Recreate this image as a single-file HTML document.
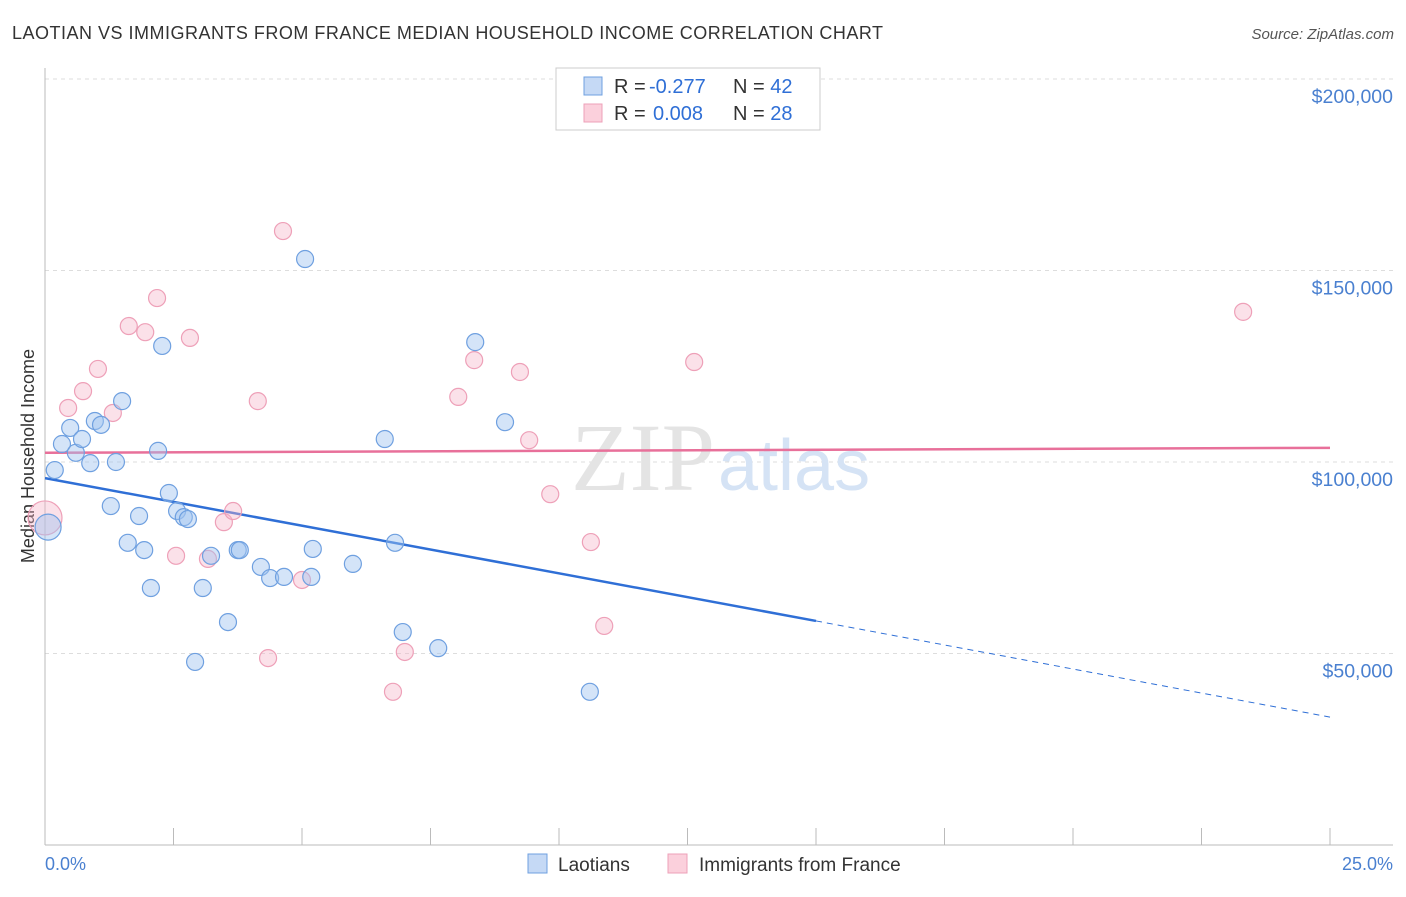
<!DOCTYPE html>
<html><head><meta charset="utf-8"><style>
body{margin:0;background:#fff;font-family:"Liberation Sans",sans-serif;}
</style></head><body>
<svg width="1406" height="892" viewBox="0 0 1406 892" xmlns="http://www.w3.org/2000/svg" font-family="Liberation Sans, sans-serif">
<text x="12" y="39" font-size="18" fill="#333" textLength="871">LAOTIAN VS IMMIGRANTS FROM FRANCE MEDIAN HOUSEHOLD INCOME CORRELATION CHART</text>
<text x="1394" y="39" font-size="15" fill="#555" font-style="italic" text-anchor="end">Source: ZipAtlas.com</text>
<g id="grid"></g>
<text x="715" y="490" font-size="96" fill="#e4e4e4" text-anchor="end" font-family="Liberation Serif, serif">ZIP</text>
<text x="718" y="490" font-size="72" fill="#d5e3f5">atlas</text>
<line x1="45" y1="68" x2="45" y2="845" stroke="#bbb"/>
<line x1="45" y1="845" x2="1393" y2="845" stroke="#bbb"/>
<text transform="translate(34,456) rotate(-90)" font-size="18" fill="#333" text-anchor="middle">Median Household Income</text>
<text x="45" y="870" font-size="18" fill="#4a80d0">0.0%</text>
<text x="1393" y="870" font-size="18" fill="#4a80d0" text-anchor="end">25.0%</text>
<g id="lines"></g>
<g id="pts"></g>
<g>
<rect x="556" y="68" width="264" height="62" fill="#fff" stroke="#ccc"/>
<rect x="584" y="77" width="18" height="18" fill="#c5d9f5" stroke="#6fa0e0"/>
<rect x="584" y="104" width="18" height="18" fill="#fbd0dc" stroke="#eea0b8"/>
<text x="614" y="93" font-size="20" fill="#333">R = <tspan fill="#2f6fd6" x="649">-0.277</tspan><tspan x="733">N = </tspan><tspan fill="#2f6fd6">42</tspan></text>
<text x="614" y="120" font-size="20" fill="#333">R = <tspan fill="#2f6fd6" x="653">0.008</tspan><tspan x="733">N = </tspan><tspan fill="#2f6fd6">28</tspan></text>
</g>
<g>
<rect x="528" y="854" width="19" height="19" fill="#c5d9f5" stroke="#6fa0e0"/>
<text x="558" y="871" font-size="19" fill="#333">Laotians</text>
<rect x="668" y="854" width="19" height="19" fill="#fbd0dc" stroke="#eea0b8"/>
<text x="699" y="871" font-size="19" fill="#333">Immigrants from France</text>
</g>
</svg>
<script>
const yTicks=[50000,100000,150000,200000];
const yTickLabels=["$50,000","$100,000","$150,000","$200,000"];
const blueX=[0.06,0.19,0.33,0.49,0.60,0.72,0.88,0.97,1.09,1.28,1.38,1.50,1.61,1.83,1.93,2.06,2.20,2.28,2.41,2.57,2.70,2.78,2.92,3.07,3.23,3.56,3.75,3.79,4.20,4.38,4.65,5.06,5.18,5.21,5.99,6.61,6.81,6.96,7.65,8.37,8.95,10.60];
const blueY=[83.0,97.9,104.7,108.9,102.4,106.0,99.7,110.7,109.7,88.5,100.0,115.9,78.9,85.9,77.0,67.1,102.9,130.3,91.9,87.2,85.6,85.1,47.8,67.1,75.5,58.2,77.0,77.0,72.6,69.7,70.0,153.0,70.0,77.3,73.4,106.0,78.9,55.6,51.4,131.3,110.4,40.0];
const pinkX=[0,0.45,0.74,1.03,1.32,1.63,1.95,2.18,2.55,2.82,3.17,3.48,3.66,4.14,4.34,4.63,5.00,6.77,7.00,8.04,8.35,9.24,9.42,9.83,10.62,10.88,12.63,23.31];
const pinkY=[85.4,114.1,118.5,124.3,112.8,135.5,133.9,142.8,75.5,132.4,74.7,84.3,87.2,115.9,48.8,160.3,69.2,40.0,50.4,117.0,126.6,123.5,105.7,91.6,79.1,57.2,126.1,139.2];
const blueTrend=[95.8,58.5,33.4];
const pinkTrend=[102.4,103.7];
const NS="http://www.w3.org/2000/svg";
const X=v=>45+v*1285/25;
const Y=k=>845-k*191.5/50;
function mk(t,a,p){const e=document.createElementNS(NS,t);for(const k in a)e.setAttribute(k,a[k]);p.appendChild(e);return e;}
const grid=document.getElementById('grid');
yTicks.forEach((v,i)=>{
 const y=Y(v/1000);
 const l=mk('line',{x1:45,x2:1393,y1:y,y2:y,stroke:'#ddd','stroke-dasharray':'4,4'},grid);
 
 
 const t=mk('text',{x:1393,y:y+24,'font-size':19.5,fill:'#4a80d0','text-anchor':'end'},grid);
 t.textContent=yTickLabels[i];
 
 
});
{const l=mk('line',{x1:45,x2:1393,y1:79,y2:79,stroke:'#ddd','stroke-dasharray':'4,4'},grid);

}
for(let i=1;i<=10;i++){
 const x=X(i*2.5);
 const l=mk('line',{x1:x,x2:x,y1:828,y2:845,stroke:'#bbb'},grid);
 
 
}
const pts=document.getElementById('pts');
function dot(x,y,r,fill,stroke,name){
 const c=mk('circle',{cx:X(x),cy:Y(y),r:r,fill:fill,stroke:stroke,'stroke-width':1.2},pts);
 
 
}
pinkX.forEach((x,i)=>dot(x,pinkY[i],i===0?17:8.5,'rgba(246,180,200,0.4)','#eea0b8','france-point'));
blueX.forEach((x,i)=>dot(x,blueY[i],i===0?13:8.5,'rgba(160,195,240,0.45)','#6fa0e0','laotian-point'));
const lines=document.getElementById('lines');
let l1=mk('line',{x1:X(0),y1:Y(pinkTrend[0]),x2:X(25),y2:Y(pinkTrend[1]),stroke:'#e8709a','stroke-width':2.5},lines);


let l2=mk('line',{x1:X(0),y1:Y(blueTrend[0]),x2:X(15),y2:Y(blueTrend[1]),stroke:'#2f6fd6','stroke-width':2.5},lines);


let l3=mk('line',{x1:X(15),y1:Y(blueTrend[1]),x2:X(25),y2:Y(blueTrend[2]),stroke:'#2f6fd6','stroke-width':1,'stroke-dasharray':'6,5'},lines);


</script>
</body></html>
